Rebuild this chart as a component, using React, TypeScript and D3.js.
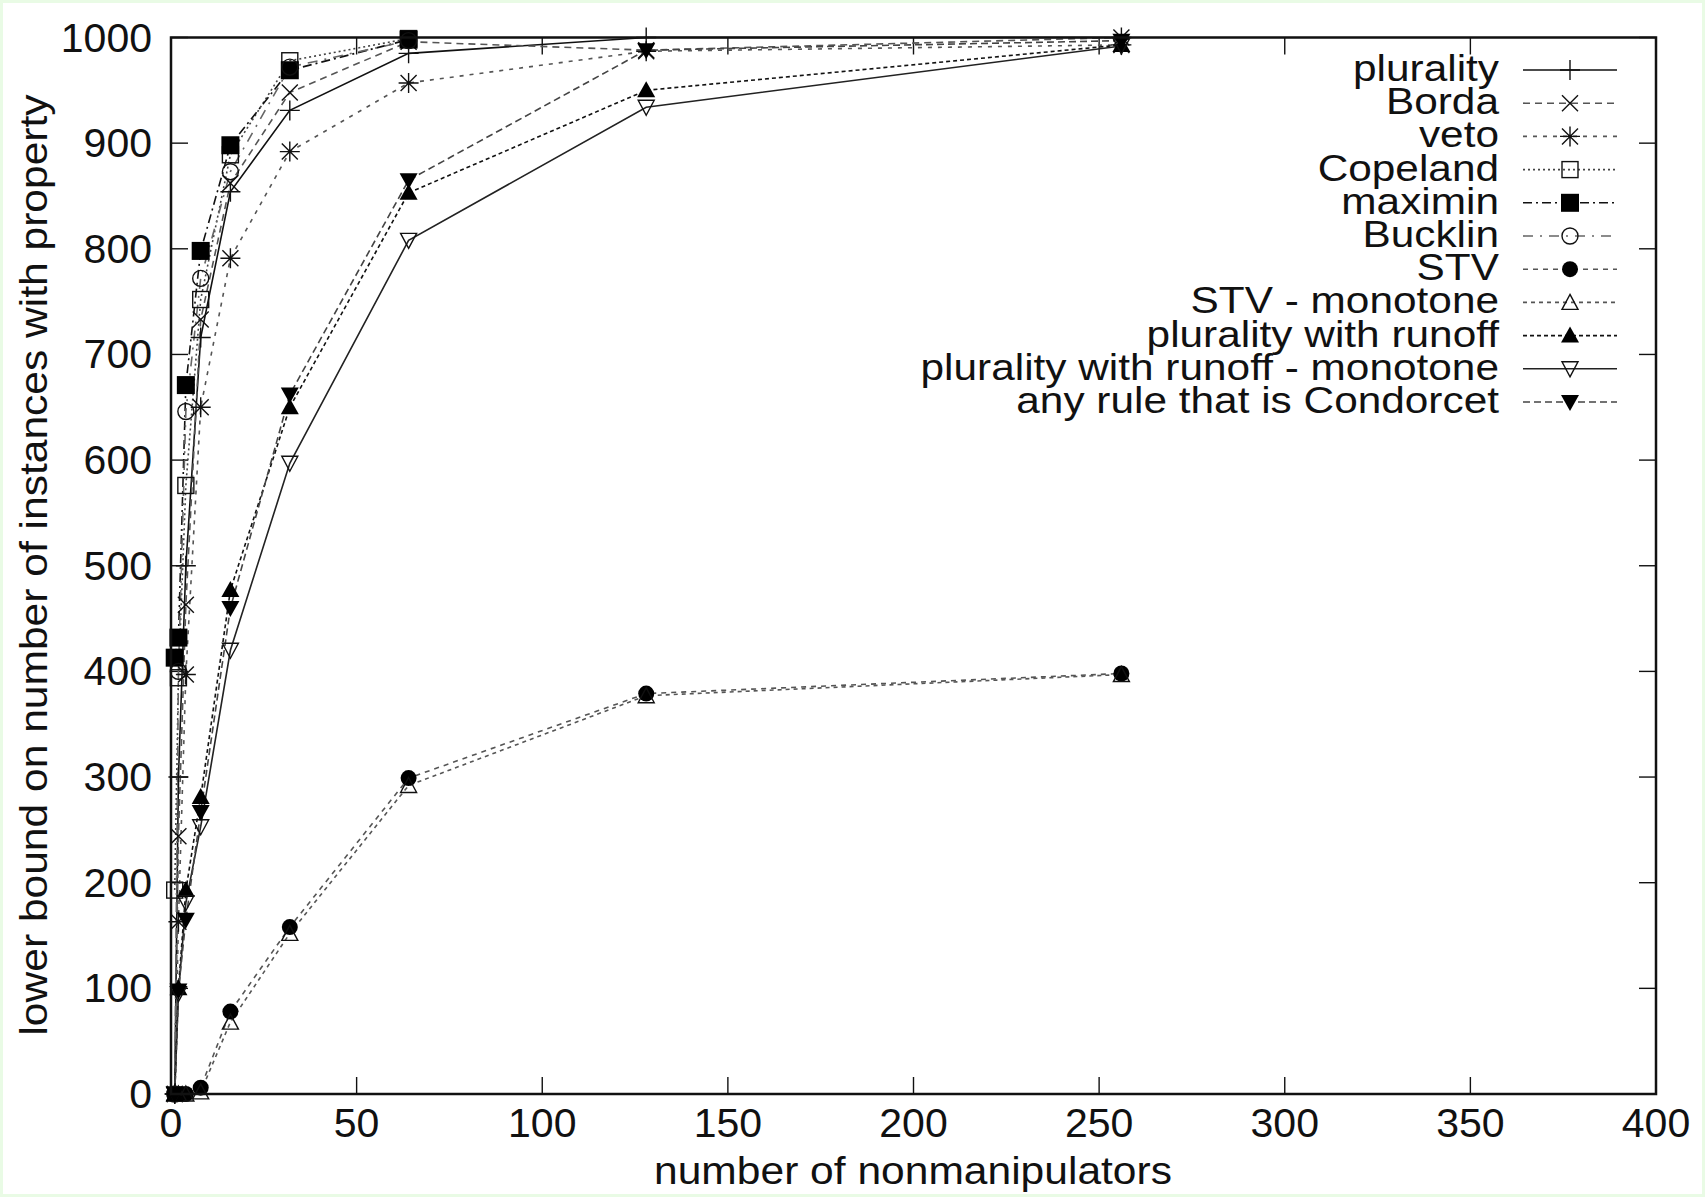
import React from 'react';
import * as d3 from 'd3';

// number of nonmanipulators
const xs = [1, 2, 4, 8, 16, 32, 64, 128, 256];

// lower bound on number of instances (out of 1000) with the property
const plurality = [0, 300, 500, 716, 854, 931, 985, 1000, 1000];
const borda = [0, 244, 463, 733, 862, 948, 996, 988, 1000];
const veto = [0, 163, 397, 650, 791, 892, 957, 987, 993];
const copeland = [193, 394, 576, 752, 889, 978, 999];
const maximin = [413, 432, 671, 798, 898, 969, 998];
const bucklin = [0, 400, 646, 772, 873, 972, 997];
const stv = [0, 0, 0, 6, 78, 158, 299, 379, 398];
const stvMono = [0, 0, 0, 2, 68, 152, 292, 377, 397];
const runoff = [0, 100, 193, 281, 477, 650, 853, 950, 993];
const runoffMono = [0, 95, 181, 253, 420, 597, 808, 934, 992];
const condorcet = [0, 98, 165, 267, 460, 662, 865, 988, 997];

const xTicks = [0, 50, 100, 150, 200, 250, 300, 350, 400];
const yTicks = [0, 100, 200, 300, 400, 500, 600, 700, 800, 900, 1000];

const series = [
  { name: 'plurality', values: plurality, dash: null, color: '#111', marker: 'plus' },
  { name: 'Borda', values: borda, dash: '7,5', color: '#555', marker: 'cross' },
  { name: 'veto', values: veto, dash: '4,6', color: '#555', marker: 'star' },
  { name: 'Copeland', values: copeland, dash: '2,3', color: '#444', marker: 'square' },
  { name: 'maximin', values: maximin, dash: '9,4,2,4', color: '#111', marker: 'fsquare' },
  { name: 'Bucklin', values: bucklin, dash: '10,7,2,7', color: '#666', marker: 'circle' },
  { name: 'STV', values: stv, dash: '5,5', color: '#555', marker: 'fcircle' },
  { name: 'STV - monotone', values: stvMono, dash: '4,4', color: '#555', marker: 'tri' },
  { name: 'plurality with runoff', values: runoff, dash: '4,3', color: '#111', marker: 'ftri' },
  { name: 'plurality with runoff - monotone', values: runoffMono, dash: null, color: '#222', marker: 'itri' },
  { name: 'any rule that is Condorcet', values: condorcet, dash: '7,4', color: '#444', marker: 'fitri' },
];

const FONT = '"Liberation Sans", Arial, Helvetica, sans-serif';

const Marker = ({ type, x, y }: { type: string; x: number; y: number }) => {
  const t = `translate(${x},${y})`;
  const s = { stroke: '#111', strokeWidth: 1.4 };
  switch (type) {
    case 'plus':
      return <path transform={t} d="M-10,0H10M0,-10V10" fill="none" {...s} />;
    case 'cross':
      return <path transform={t} d="M-8,-8L8,8M-8,8L8,-8" fill="none" {...s} />;
    case 'star':
      return <path transform={t} d="M-10,0H10M0,-10V10M-8,-8L8,8M-8,8L8,-8" fill="none" {...s} />;
    case 'square':
      return <rect transform={t} x={-8} y={-8} width={16} height={16} fill="none" {...s} />;
    case 'fsquare':
      return <rect transform={t} x={-9} y={-9} width={18} height={18} fill="#000" stroke="none" />;
    case 'circle':
      return <circle transform={t} r={8} fill="none" {...s} />;
    case 'fcircle':
      return <circle transform={t} r={8} fill="#000" stroke="none" />;
    case 'tri':
      return <path transform={t} d="M0,-8L8,7H-8Z" fill="none" {...s} />;
    case 'ftri':
      return <path transform={t} d="M0,-9L9,7H-9Z" fill="#000" stroke="none" />;
    case 'itri':
      return <path transform={t} d="M0,8L8,-7H-8Z" fill="none" {...s} />;
    case 'fitri':
      return <path transform={t} d="M0,9L9,-7H-9Z" fill="#000" stroke="none" />;
    default:
      return null;
  }
};

const App = () => {
  const width = 1705;
  const height = 1197;
  const left = 171, right = 1656, top = 37.5, bottom = 1094;

  const x = d3.scaleLinear().domain([0, 400]).range([left, right]);
  const y = d3.scaleLinear().domain([0, 1000]).range([bottom, top]);

  const line = d3
    .line<number>()
    .x((_, i) => x(xs[i]))
    .y(d => y(d));

  const tickLen = 17;
  const legendX = 1499;
  const legendY0 = 70;
  const legendDy = 33.2;

  return (
    <svg
      width={width}
      height={height}
      style={{ position: 'absolute', left: 0, top: 0, fontFamily: FONT }}
    >
      <rect x={0} y={0} width={width} height={height} fill="#e9fbe5" />
      <rect x={3} y={3} width={width - 6} height={height - 6} fill="#fff" />

      {/* ticks, mirrored on all sides */}
      <g stroke="#111" strokeWidth={1.4}>
        {xTicks.map(t => (
          <g key={'xt' + t}>
            <line x1={x(t)} x2={x(t)} y1={bottom} y2={bottom - tickLen} />
            <line x1={x(t)} x2={x(t)} y1={top} y2={top + tickLen} />
          </g>
        ))}
        {yTicks.map(t => (
          <g key={'yt' + t}>
            <line x1={left} x2={left + tickLen} y1={y(t)} y2={y(t)} />
            <line x1={right} x2={right - tickLen} y1={y(t)} y2={y(t)} />
          </g>
        ))}
      </g>

      {/* series lines */}
      {series.map(s => (
        <path
          key={'l' + s.name}
          d={line(s.values) || ''}
          fill="none"
          stroke={s.color}
          strokeWidth={1.6}
          strokeDasharray={s.dash || undefined}
        />
      ))}

      {/* markers */}
      {series.map(s => (
        <g key={'m' + s.name}>
          {s.values.map((v, i) => (
            <Marker key={i} type={s.marker} x={x(xs[i])} y={y(v)} />
          ))}
        </g>
      ))}

      {/* frame */}
      <rect
        x={left}
        y={top}
        width={right - left}
        height={bottom - top}
        fill="none"
        stroke="#111"
        strokeWidth={2.5}
      />

      {/* tick labels */}
      <g fontSize={41} fill="#111">
        {xTicks.map(t => (
          <text key={'xl' + t} x={x(t)} y={1137} textAnchor="middle">
            {t}
          </text>
        ))}
        {yTicks.map(t => (
          <text key={'yl' + t} x={152} y={y(t) + 14} textAnchor="end">
            {t}
          </text>
        ))}
      </g>

      {/* axis titles */}
      <text
        transform="translate(913,1184) scale(1.12,1)"
        textAnchor="middle"
        fontSize={38}
        fill="#111"
      >
        number of nonmanipulators
      </text>
      <text
        transform="translate(47,565) rotate(-90) scale(1.12,1)"
        textAnchor="middle"
        fontSize={38}
        fill="#111"
      >
        lower bound on number of instances with property
      </text>

      {/* legend */}
      <g>
        {series.map((s, i) => {
          const ly = legendY0 + i * legendDy;
          return (
            <g key={'lg' + s.name}>
              <text
                transform={`translate(${legendX},${ly + 11}) scale(1.13,1)`}
                textAnchor="end"
                fontSize={37.5}
                fill="#111"
              >
                {s.name}
              </text>
              <line
                x1={1523}
                x2={1617}
                y1={ly}
                y2={ly}
                stroke={s.color}
                strokeWidth={1.6}
                strokeDasharray={s.dash || undefined}
              />
              <Marker type={s.marker} x={1570} y={ly} />
            </g>
          );
        })}
      </g>
    </svg>
  );
};

export default App;
